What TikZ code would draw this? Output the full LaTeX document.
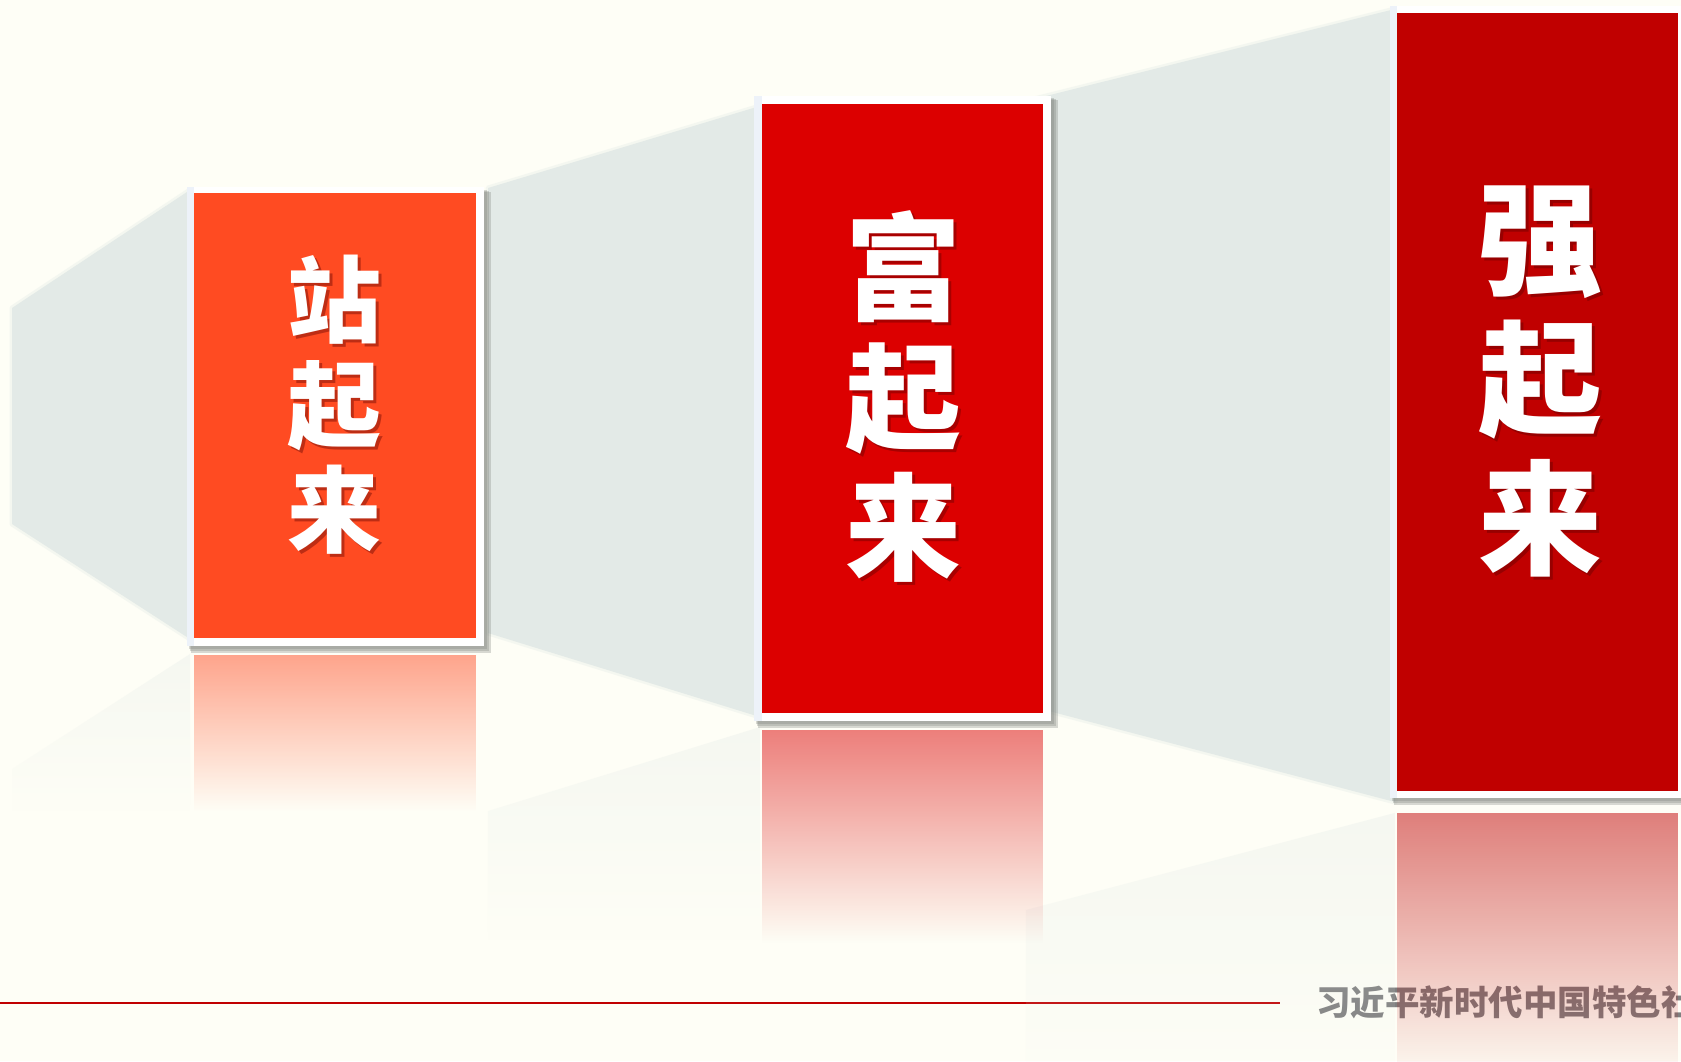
\documentclass[tikz,border=0pt]{standalone}
\usepackage{fontspec}
\newfontfamily\cjk{Noto Sans CJK SC}
\usetikzlibrary{fadings}
\definecolor{bgc}{HTML}{FEFEF6}
\definecolor{panelc}{HTML}{E3EAE7}
\definecolor{cone}{HTML}{FF4B22}
\definecolor{ctwo}{HTML}{DC0000}
\definecolor{cthree}{HTML}{C00000}
\definecolor{framel}{HTML}{EDF2F9}
\definecolor{shadowc}{HTML}{7E827C}
\definecolor{linec}{HTML}{C00000}
\definecolor{txtgray}{HTML}{7F7F7F}
\definecolor{chshadow}{HTML}{5A0000}
\tikzfading[name=reflfade, top color=transparent!50, bottom color=transparent!100]
\tikzfading[name=panelfade, top color=transparent!68, bottom color=transparent!100]
\begin{document}
\begin{tikzpicture}[x=1pt,y=-1pt,
  panelshape/.style={fill=panelc},
  panelsoft/.style={draw=panelc, line width=5pt, opacity=0.35, line join=round},
  panelrefl/.style={fill=panelc, path fading=panelfade},
  boxshadow/.style={fill=shadowc, opacity=0.3},
  boxframe/.style={fill=white},
  frameleft/.style={fill=framel},
  chars/.style={text=white, align=center, inner sep=0pt},
  charsh/.style={text=chshadow, opacity=0.4, align=center, inner sep=0pt},
]
\useasboundingbox (0,0) rectangle (1681,1061);
\clip (0,0) rectangle (1681,1061);
\fill[bgc] (0,0) rectangle (1681,1061);

% panels
\draw[panelsoft] (12,308) -- (190,190) -- (190,639) -- (12,524) -- cycle;
\fill[panelshape] (12,308) -- (190,190) -- (190,639) -- (12,524) -- cycle;
\draw[panelsoft] (488,188) -- (760,106) -- (760,717) -- (488,633) -- cycle;
\fill[panelshape] (488,188) -- (760,106) -- (760,717) -- (488,633) -- cycle;
\draw[panelsoft] (1026,101) -- (1395,9) -- (1395,802) -- (1026,705) -- cycle;
\fill[panelshape] (1026,101) -- (1395,9) -- (1395,802) -- (1026,705) -- cycle;

% bottom line and title
\draw[linec, line width=2.5pt] (0,1003) coordinate (lineL) -- (1280,1003) coordinate (lineR);
\node[anchor=west, inner sep=0pt, text=txtgray, font={\cjk\bfseries\fontsize{34.5}{36}\selectfont}] (title) at (1316,1002) {习近平新时代中国特色社};

% panel reflections
\fill[panelrefl] (190,654) -- (12,769) -- (12,811) -- (190,811) -- cycle;
\fill[panelrefl] (760,727) -- (488,811) -- (488,940) -- (760,940) -- cycle;
\fill[panelrefl] (1395,813) -- (1026,910) -- (1026,1091) -- (1395,1091) -- cycle;

% box reflections
\fill[cone, path fading=reflfade] (194,655) rectangle (476,811);
\fill[ctwo, path fading=reflfade] (762,730) rectangle (1043,943);
\fill[cthree, path fading=reflfade] (1397,813) rectangle (1678,1085);

% box 1
\fill[boxshadow] (189,190) rectangle (487,649);
\fill[boxshadow] (190,191) rectangle (489,651);
\fill[boxshadow] (191,192) rectangle (491,653);
\fill[boxframe] (187,187) rectangle (484,646);
\fill[frameleft] (187,187) rectangle (194,646);
\fill[cone] (194,193) rectangle (476,638);
% box 2
\fill[boxshadow] (756,98) rectangle (1054,724);
\fill[boxshadow] (757,99) rectangle (1056,726);
\fill[boxshadow] (758,100) rectangle (1058,728);
\fill[boxframe] (754,96) rectangle (1051,721);
\fill[frameleft] (754,96) rectangle (762,721);
\fill[ctwo] (762,104) rectangle (1043,713);
% box 3
\fill[boxshadow] (1392,8) rectangle (1690,801);
\fill[boxshadow] (1393,9) rectangle (1690,803);
\fill[boxshadow] (1394,10) rectangle (1690,805);
\fill[boxframe] (1390,6) rectangle (1690,798);
\fill[frameleft] (1390,6) rectangle (1397,798);
\fill[cthree] (1397,13) rectangle (1678,791);

% characters
\node[charsh, font={\cjk\bfseries\fontsize{94}{105}\selectfont}] (t1s) at (337,408) {站\\起\\来};
\node[chars, font={\cjk\bfseries\fontsize{94}{105}\selectfont}] (t1) at (334,405) {站\\起\\来};
\node[charsh, font={\cjk\bfseries\fontsize{116}{130}\selectfont}] (t2s) at (906,399) {富\\起\\来};
\node[chars, font={\cjk\bfseries\fontsize{116}{130}\selectfont}] (t2) at (903,396) {富\\起\\来};
\node[charsh, font={\cjk\bfseries\fontsize{124}{140}\selectfont}] (t3s) at (1543,384) {强\\起\\来};
\node[chars, font={\cjk\bfseries\fontsize{124}{140}\selectfont}] (t3) at (1540,381) {强\\起\\来};
\end{tikzpicture}
\end{document}
